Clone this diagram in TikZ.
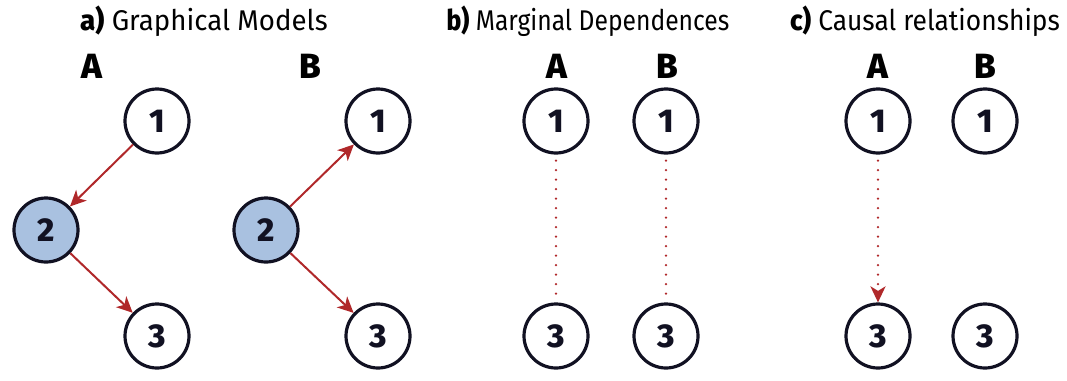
\documentclass[tikz,border=0pt]{standalone}
\usepackage{fontspec}
\setmainfont{Fira Sans}
\newfontfamily\heavyface{Fira Sans ExtraBold}
\usetikzlibrary{arrows.meta}
\definecolor{edgered}{HTML}{B0282A}
\definecolor{nodeblue}{HTML}{A9C1E0}
\definecolor{inkdark}{HTML}{111122}
% panel title: bold letter, then the caption, squeezed sideways by #1
\newcommand\paneltitle[3]{\scalebox{#1}[1]{{\heavyface #2)} #3}}
\begin{document}
\begin{tikzpicture}[x=1pt,y=-1pt,
  var/.style={circle,draw=inkdark,line width=3.2pt,minimum size=64pt,inner sep=0pt,
    font=\fontsize{33}{33}\heavyface,text=inkdark,fill=white},
  obs/.style={var,fill=nodeblue},
  link/.style={draw=edgered,line width=2pt,-{Stealth[length=16pt,width=15pt,inset=4.5pt]}},
  dep/.style={draw=edgered,line width=2.6pt,line cap=round,dash pattern=on 0pt off 9.5pt,
    shorten <=6pt,shorten >=6pt},
  causal/.style={draw=edgered,line width=2.6pt,line cap=round,dash pattern=on 0pt off 9.5pt,
    shorten <=6pt,-{Stealth[length=16pt,width=15pt,inset=4.5pt,line cap=butt]}},
  panel/.style={font=\fontsize{28.5}{28.5}\selectfont,text=black,inner sep=0pt},
  col/.style={font=\fontsize{35}{35}\heavyface,text=black}]
\useasboundingbox (0,0) rectangle (1067,380);

% panel titles
\node[panel] (ta) at (204,21) {\paneltitle{0.97}{a}{Graphical Models}};
\node[panel] (tb) at (588,21) {\paneltitle{0.865}{b}{Marginal Dependences}};
\node[panel] (tc) at (925,21) {\paneltitle{0.925}{c}{Causal relationships}};

% column headings
\node[col] (ha) at (92,66) {A};
\node[col] (hb) at (310,66) {B};
\node[col] (hba) at (557,66) {A};
\node[col] (hbb) at (667,66) {B};
\node[col] (hca) at (878,66) {A};
\node[col] (hcb) at (985,66) {B};

% a) graphical models
\node[var] (a1) at (157,121) {1};
\node[obs] (a2) at (46,230) {2};
\node[var] (a3) at (157,336) {3};
\node[var] (b1) at (378,121) {1};
\node[obs] (b2) at (266,230) {2};
\node[var] (b3) at (378,336) {3};
\draw[link] (a1) -- (a2);
\draw[link] (a2) -- (a3);
\draw[link] (b2) -- (b1);
\draw[link] (b2) -- (b3);

% b) marginal dependences
\node[var] (m1) at (556,121) {1};
\node[var] (m3) at (556,336) {3};
\node[var] (n1) at (666,121) {1};
\node[var] (n3) at (666,336) {3};
\draw[dep] (m1) -- (m3);
\draw[dep] (n1) -- (n3);

% c) causal relationships
\node[var] (c1) at (878,121) {1};
\node[var] (c3) at (878,336) {3};
\node[var] (d1) at (985,121) {1};
\node[var] (d3) at (985,336) {3};
\draw[causal] (c1) -- (c3);
\end{tikzpicture}
\end{document}
